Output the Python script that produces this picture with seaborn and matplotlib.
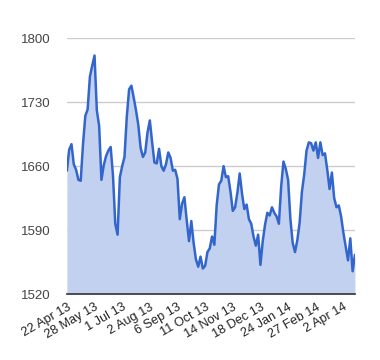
import matplotlib
matplotlib.use("Agg")
import matplotlib.pyplot as plt
import numpy as np
import pandas as pd
import seaborn as sns

# Sampled every second trading day, 22 Apr 13 .. Apr 14
values = [
    1655, 1678, 1684, 1662, 1656, 1645, 1644, 1684, 1715, 1722,
    1758, 1770, 1781, 1721, 1704, 1645, 1661, 1671, 1677, 1681,
    1650, 1597, 1585, 1648, 1660, 1670, 1714, 1744, 1748, 1735,
    1721, 1705, 1680, 1670, 1675, 1697, 1710, 1686, 1664, 1663,
    1679, 1660, 1655, 1662, 1675, 1669, 1655, 1656, 1646, 1602,
    1619, 1626, 1601, 1578, 1600, 1576, 1558, 1550, 1561, 1548,
    1551, 1566, 1570, 1583, 1574, 1617, 1640, 1644, 1660, 1648,
    1649, 1632, 1611, 1615, 1631, 1652, 1630, 1613, 1618, 1602,
    1597, 1583, 1573, 1585, 1552, 1578, 1596, 1609, 1606, 1615,
    1609, 1605, 1597, 1638, 1665, 1657, 1645, 1602, 1576, 1566,
    1579, 1598, 1632, 1651, 1677, 1686, 1685, 1677, 1686, 1669,
    1686, 1672, 1674, 1656, 1635, 1653, 1625, 1615, 1617, 1605,
    1587, 1572, 1557, 1581, 1545, 1563,
]
tick_labels = ["22 Apr 13", "28 May 13", "1 Jul 13", "2 Aug 13", "6 Sep 13",
               "11 Oct 13", "14 Nov 13", "18 Dec 13", "24 Jan 14", "27 Feb 14",
               "2 Apr 14"]
y_ticks = [1520, 1590, 1660, 1730, 1800]

df = pd.DataFrame({"idx": np.arange(len(values)), "value": values})

sns.set_theme(style="white")
plt.rcParams["font.family"] = ["Liberation Sans", "DejaVu Sans"]

fig = plt.figure(figsize=(3.8, 3.6), dpi=100)
ax = fig.add_axes([0.176, 0.183, 0.758, 0.711])

line_color = "#3366cc"
ax.fill_between(df["idx"], df["value"], y_ticks[0], color="#c2d1f0", lw=0, zorder=1)
sns.lineplot(data=df, x="idx", y="value", ax=ax, color=line_color, lw=1.8, zorder=3)

# one label every 12 samples (24 trading days)
ax.set_xlim(0, len(values) - 1)
ax.set_ylim(y_ticks[0], y_ticks[-1])
ax.set_yticks(y_ticks)
ax.set_xticks(np.arange(len(tick_labels)) * 12)
ax.set_xticklabels(tick_labels, rotation=30, ha="right", va="top",
                   rotation_mode="anchor")
ax.tick_params(axis="y", length=0, pad=12, labelsize=9.5, labelcolor="#444444")
ax.tick_params(axis="x", length=0, pad=5, labelsize=9.2, labelcolor="#222222")
ax.set_xlabel("")
ax.set_ylabel("")

ax.yaxis.grid(True, color="#cccccc", lw=1)
ax.set_axisbelow(True)
for side in ["top", "right", "left"]:
    ax.spines[side].set_visible(False)
ax.spines["bottom"].set_color("#333333")
ax.spines["bottom"].set_linewidth(1.2)
ax.spines["bottom"].set_zorder(4)

fig.savefig("out.png", dpi=100)
